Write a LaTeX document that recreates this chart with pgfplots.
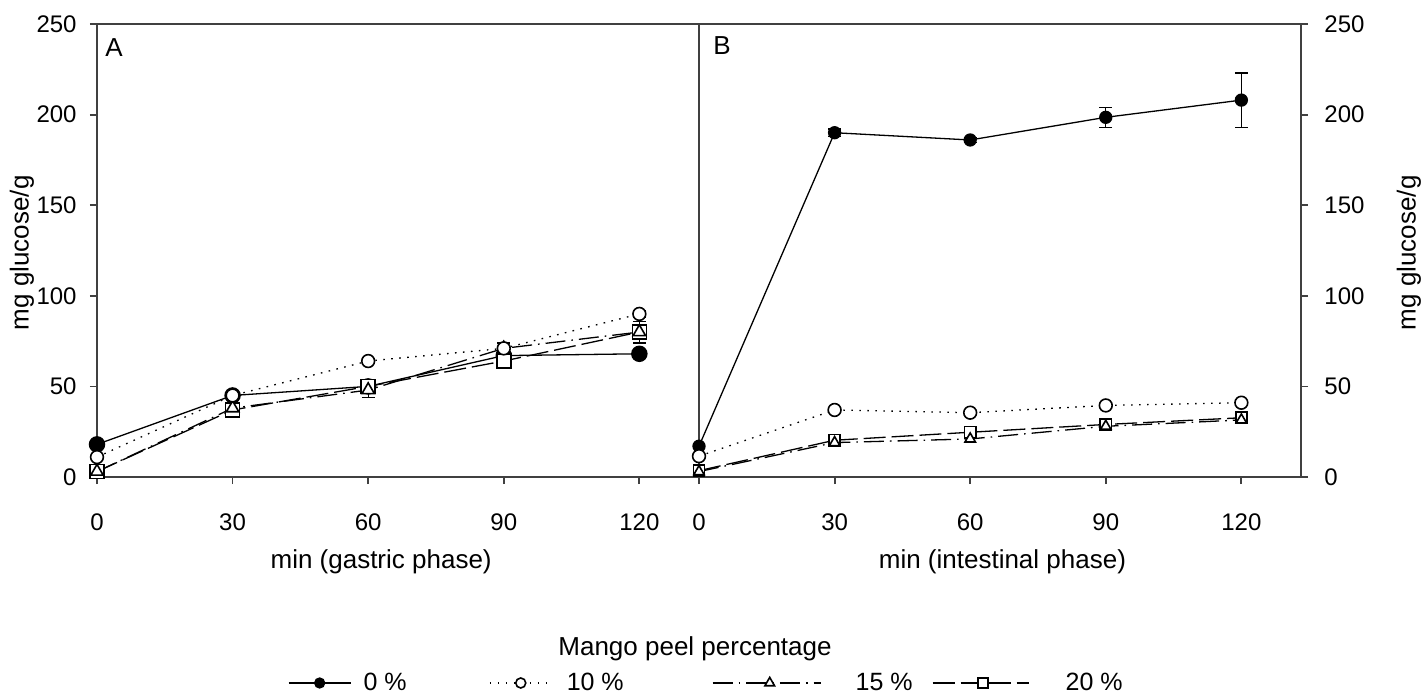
\documentclass[border=0pt]{standalone}
\usepackage{pgfplots}
\pgfplotsset{compat=1.18}
\usepackage{fontspec}
\setmainfont{Liberation Sans}
\pgfplotsset{
  base/.style={
    scale only axis, width=301pt, height=226.5pt,
    xmin=0, xmax=133.2, ymin=0, ymax=250,
    xtick={0,30,60,90,120}, ytick={0,50,...,250},
    tick align=outside, major tick length=3.5pt,
    xtick pos=bottom,
    axis line style={black!75, line width=0.9pt},
    every tick/.style={black!75, line width=0.9pt},
    tick label style={font=\fontsize{12}{14}\selectfont},
    /pgf/number format/assume math mode=true,
    clip=false,
    xticklabel style={inner sep=0pt, anchor=north, yshift=-14.5pt},
  },
  s0/.style={black, line width=0.65pt, mark=*, mark options={solid, fill=black}},
  s10/.style={black, line width=0.65pt, dash pattern=on 0.8pt off 3.2pt, mark=*, mark options={solid, fill=white, line width=0.8pt}},
  s15/.style={black, line width=0.65pt, dash pattern=on 10pt off 3pt on 0.8pt off 3pt, mark=triangle*, mark options={solid, fill=white, line width=0.8pt}},
  s20/.style={black, line width=0.65pt, dash pattern=on 11pt off 3pt, mark=square*, mark options={solid, fill=white, line width=0.8pt}},
  eb/.style={error bars/.cd, y dir=both, y explicit,
    error bar style={solid, line width=0.65pt, black},
    error mark options={rotate=90, mark size=3.2pt, solid, line width=0.65pt, black}},
  legA/.style={legend image code/.code={
    \draw[mark repeat=2,mark phase=2,##1] plot coordinates {(0pt,0pt) (15.5pt,0pt) (31pt,0pt)};
    \path[draw=none] (0pt,0pt) -- (37.5pt,0pt);}},
  legB/.style={legend image code/.code={
    \draw[mark repeat=2,mark phase=2,##1] plot coordinates {(41.5pt,0pt) (57pt,0pt) (73pt,0pt)};
    \path[draw=none] (0pt,0pt) -- (80pt,0pt);}},
  legC/.style={legend image code/.code={
    \draw[mark repeat=2,mark phase=2,##1] plot coordinates {(44.5pt,0pt) (73pt,0pt) (98.5pt,0pt)};
    \path[draw=none] (0pt,0pt) -- (116pt,0pt);}},
  legD/.style={legend image code/.code={
    \draw[mark repeat=2,mark phase=2,##1] plot coordinates {(10pt,0pt) (35pt,0pt) (58pt,0pt)};
    \path[draw=none] (0pt,0pt) -- (76.5pt,0pt);}},
}
\begin{document}
\begin{tikzpicture}
% ---------------- Panel A ----------------
\begin{axis}[base, at={(0,0)}, anchor=south west,
  ytick pos=left,
  yticklabel style={inner sep=0pt, anchor=east, xshift=-6.5pt},
  ylabel={mg glucose/g},
  every axis y label/.style={at={(rel axis cs:-0.1246,0.495)}, rotate=90, anchor=center, font=\fontsize{13}{15}\selectfont},
  xlabel={min (gastric phase)},
  every axis x label/.style={at={(rel axis cs:0.472,-0.2009)}, anchor=base, font=\fontsize{13}{15}\selectfont},
  legend style={draw=none, fill=none, inner sep=0pt, outer sep=0pt,
    at={(0.3173,-0.4547)}, anchor=west,
    nodes={inner sep=0pt, font=\fontsize{12.5}{14}\selectfont},
    /tikz/every even column/.append style={column sep=0pt},
    /tikz/every odd column/.append style={column sep=0pt}},
  legend columns=4,
]
\addlegendimage{s0, mark size=2.5pt, legA}
\addlegendentry{0 \%}
\addlegendimage{s10, mark size=2.5pt, legB}
\addlegendentry{10 \%}
\addlegendimage{s15, mark size=2.8pt, legC}
\addlegendentry{15 \%}
\addlegendimage{s20, mark size=2.5pt, legD}
\addlegendentry{20 \%}

\addplot[forget plot, s0, mark size=3.8pt] coordinates {
  (0,18) (30,45) (60,50) (90,67) (120,68)};
\addplot[forget plot, s20, mark size=3.5pt, eb] coordinates {
  (0,3) +- (0,0) (30,37) +- (0,0) (60,50) +- (0,0) (90,64) +- (0,0) (120,80) +- (0,6)};
\addplot[forget plot, s15, mark size=3.6pt, eb] coordinates {
  (0,3) +- (0,0) (30,38) +- (0,0) (60,48) +- (0,4) (90,71) +- (0,3) (120,80) +- (0,2)};
\addplot[forget plot, s10, mark size=3.2pt, eb] coordinates {
  (0,11) +- (0,0) (30,45) +- (0,0) (60,64) +- (0,0) (90,71) +- (0,0) (120,90) +- (0,2)};

\node[anchor=north west, inner sep=0pt, font=\fontsize{13}{15}\selectfont] at (rel axis cs:0.0133,0.969) {A};
\node[anchor=base, inner sep=0pt, font=\fontsize{13}{15}\selectfont] at (rel axis cs:0.9934,-0.393) {Mango peel percentage};
\end{axis}
% ---------------- Panel B ----------------
\begin{axis}[base, at={(301pt,0)}, anchor=south west,
  ytick pos=right, yticklabel pos=right,
  yticklabel style={inner sep=0pt, anchor=west, xshift=8pt},
  ylabel={mg glucose/g},
  every axis y label/.style={at={(rel axis cs:1.179,0.495)}, rotate=90, anchor=center, font=\fontsize{13}{15}\selectfont},
  xlabel={min (intestinal phase)},
  every axis x label/.style={at={(rel axis cs:0.504,-0.2009)}, anchor=base, font=\fontsize{13}{15}\selectfont},
]
\addplot[s0, mark size=3pt, eb] coordinates {
  (0,17) +- (0,0) (30,190) +- (0,2) (60,186) +- (0,1.5) (90,198.5) +- (0,5.5) (120,208) +- (0,15)};
\addplot[s20, mark size=2.8pt] coordinates {
  (0,3.5) (30,20.3) (60,24.7) (90,29) (120,32.7)};
\addplot[s15, mark size=3pt] coordinates {
  (0,3) (30,19) (60,21) (90,28) (120,31.5)};
\addplot[s10, mark size=3.2pt] coordinates {
  (0,11.5) (30,37) (60,35.5) (90,39.5) (120,41)};
\node[anchor=north west, inner sep=0pt, font=\fontsize{13}{15}\selectfont] at (rel axis cs:0.023,0.973) {B};
\end{axis}
\pgfresetboundingbox
\path[use as bounding box] (-48.5pt,-110.5pt) rectangle (665pt,238.5pt);
\end{tikzpicture}
\end{document}
